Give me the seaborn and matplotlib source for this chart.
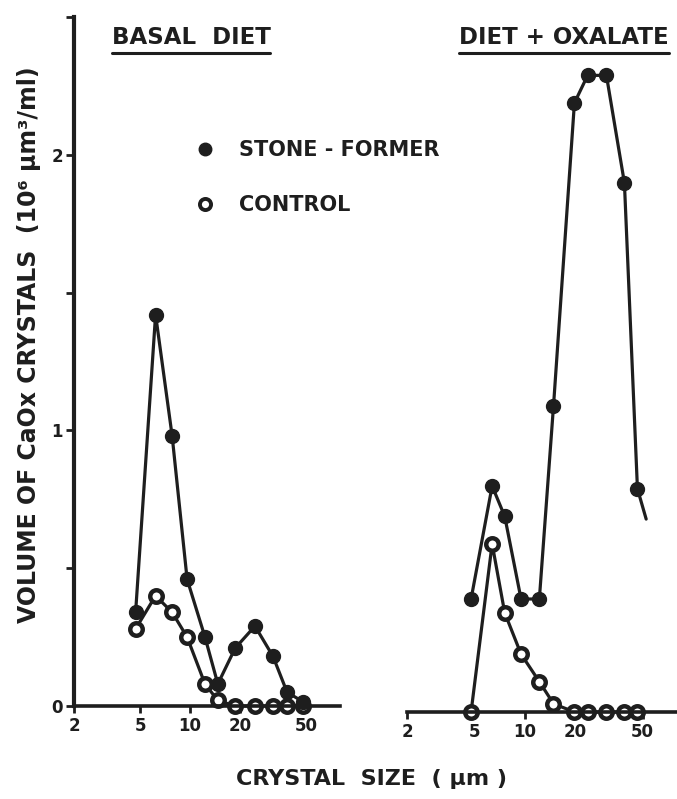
import matplotlib
matplotlib.use("Agg")
import matplotlib.pyplot as plt
from matplotlib.lines import Line2D
from matplotlib.ticker import FixedLocator, FixedFormatter, NullLocator
import pandas as pd
import seaborn as sns

sns.set_style("white")
plt.rcParams["font.family"] = ["DejaVu Sans"]
plt.rcParams["font.weight"] = "bold"

INK = "#1e1e1e"

# Crystal size classes (µm) and CaOx crystal volume (10^6 µm^3/ml)
basal_size = [4.7, 6.2, 7.8, 9.6, 12.3, 14.7, 18.7, 24.6, 31.6, 38.4, 48.0]
basal_stone = [0.34, 1.42, 0.98, 0.46, 0.25, 0.08, 0.21, 0.29, 0.18, 0.05, 0.015]
basal_control = [0.28, 0.40, 0.34, 0.25, 0.08, 0.02, 0.0, 0.0, 0.0, 0.0, 0.0]

oxalate_size = [4.8, 6.4, 7.6, 9.5, 12.2, 14.8, 19.7, 23.6, 30.5, 39.0, 46.6]
oxalate_stone = [0.41, 0.82, 0.71, 0.41, 0.41, 1.11, 2.21, 2.31, 2.31, 1.92, 0.81]
oxalate_control = [0.0, 0.61, 0.36, 0.21, 0.11, 0.03, 0.0, 0.0, 0.0, 0.0, 0.0]

# open-ended tail of the stone-former curve past the last size class
oxalate_tail_size = [46.6, 52.5]
oxalate_tail_volume = [0.81, 0.70]

x_ticks = [2, 5, 10, 20, 50]
x_tick_labels = ["2", "5", "10", "20", "50"]
y_ticks = [0, 0.5, 1, 1.5, 2, 2.5]
y_tick_labels = ["0", "", "1", "", "2", ""]

panel_titles = ["BASAL  DIET", "DIET + OXALATE"]
series_labels = ["STONE - FORMER", "CONTROL"]
x_label = "CRYSTAL  SIZE  ( µm )"
y_label = "VOLUME OF CaOx CRYSTALS  (10⁶ µm³/ml)"

basal = pd.DataFrame({"size": basal_size, "stone": basal_stone, "control": basal_control})
oxalate = pd.DataFrame({"size": oxalate_size, "stone": oxalate_stone, "control": oxalate_control})

fig = plt.figure(figsize=(6.77, 7.99), dpi=100)
ax_l = fig.add_axes([74 / 677, 93 / 799, 266 / 677, 689 / 799])
ax_r = fig.add_axes([407 / 677, 87 / 799, 270 / 677, 689 / 799])

stone_style = dict(color=INK, linewidth=2.3, marker="o", markersize=10,
                   markerfacecolor=INK, markeredgecolor=INK, markeredgewidth=1.0,
                   estimator=None, sort=False, clip_on=False, legend=False)
control_style = dict(color=INK, linewidth=2.3, marker="o", markersize=9,
                     markerfacecolor="white", markeredgecolor=INK, markeredgewidth=3.2,
                     estimator=None, sort=False, clip_on=False, legend=False)

for ax, df in ((ax_l, basal), (ax_r, oxalate)):
    sns.lineplot(data=df, x="size", y="control", ax=ax, **control_style)
    sns.lineplot(data=df, x="size", y="stone", ax=ax, **stone_style)

sns.lineplot(x=oxalate_tail_size, y=oxalate_tail_volume, ax=ax_r, color=INK,
             linewidth=2.3, estimator=None, sort=False, legend=False)

for ax in (ax_l, ax_r):
    ax.set_xscale("log")
    ax.set_xlim(2, 80)
    ax.set_ylim(0, 2.5)
    ax.xaxis.set_major_locator(FixedLocator(x_ticks))
    ax.xaxis.set_major_formatter(FixedFormatter(x_tick_labels))
    ax.xaxis.set_minor_locator(NullLocator())
    ax.tick_params(axis="x", which="major", direction="out", length=5, width=2,
                   pad=3, labelsize=12, colors=INK, bottom=True)
    ax.set_xlabel("")
    ax.set_ylabel("")
    ax.patch.set_alpha(0)
    for side in ("top", "right"):
        ax.spines[side].set_visible(False)
    ax.spines["bottom"].set_linewidth(2.6)
    ax.spines["bottom"].set_color(INK)

ax_l.yaxis.set_major_locator(FixedLocator(y_ticks))
ax_l.yaxis.set_major_formatter(FixedFormatter(y_tick_labels))
ax_l.tick_params(axis="y", direction="out", length=6, width=2, pad=2,
                 labelsize=12, colors=INK, left=True)
ax_l.spines["left"].set_linewidth(3.0)
ax_l.spines["left"].set_color(INK)

ax_r.spines["left"].set_visible(False)
ax_r.yaxis.set_major_locator(NullLocator())

# Panel headings, underlined
fig.canvas.draw()
renderer = fig.canvas.get_renderer()
for title, xc in zip(panel_titles, (191 / 677, 564 / 677)):
    t = fig.text(xc, 1 - 37 / 799, title, ha="center", va="center",
                 fontsize=16.5, fontweight="bold", color=INK)
    bb = t.get_window_extent(renderer)
    y_line = (bb.y0 - 4) / fig.bbox.height
    fig.add_artist(Line2D([bb.x0 / fig.bbox.width, bb.x1 / fig.bbox.width],
                          [y_line, y_line], color=INK, linewidth=2.2))

# Series key
handles = [
    Line2D([], [], linestyle="none", marker="o", markersize=9,
           markerfacecolor=INK, markeredgecolor=INK),
    Line2D([], [], linestyle="none", marker="o", markersize=8,
           markerfacecolor="white", markeredgecolor=INK, markeredgewidth=2.8),
]
fig.legend(handles, series_labels, loc="upper left",
           bbox_to_anchor=(195 / 677, 1 - 140 / 799), frameon=False,
           prop={"size": 15, "weight": "bold"}, handlelength=1.0,
           handletextpad=1.1, labelspacing=1.7, borderpad=0, borderaxespad=0,
           labelcolor=INK)

fig.text(371 / 677, 1 - 779 / 799, x_label, ha="center", va="center",
         fontsize=16, fontweight="bold", color=INK)
fig.text(29 / 677, 1 - 345 / 799, y_label, ha="center", va="center",
         rotation=90, fontsize=17, fontweight="bold", color=INK)

fig.savefig("out.png", dpi=100)
